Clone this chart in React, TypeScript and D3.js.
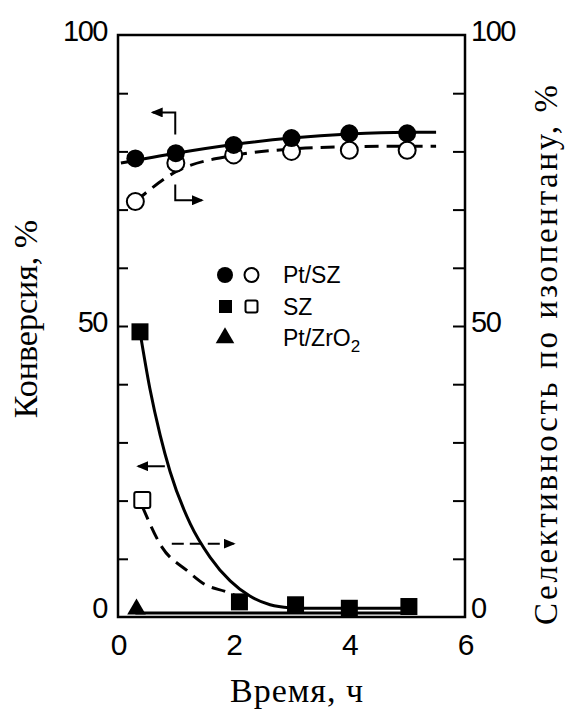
import { useRef, useEffect } from "react";
import * as d3 from "d3";

// measured points (time, h)
const ptszTime = [0.3, 1, 2, 3, 4, 5];
const ptszConversion = [78.8, 79.7, 81.1, 82.3, 83.1, 83.1];
const ptszSelectivity = [71.4, 78.0, 79.4, 80.0, 80.2, 80.2];

const szTime = [0.38, 2.1, 3.07, 4.0, 5.03];
const szConversion = [49.0, 2.6, 2.1, 1.5, 1.8];
const szSelTime = [0.42];
const szSelectivity = [20.1];

const ptzrTime = [0.32];
const ptzrConversion = [1.0];

// drawn trend curves
const ptszConvFit: [number, number][] = [[0.05, 78], [1, 79.7], [2, 81.2], [3, 82.3], [4, 83], [5, 83.3], [5.5, 83.3]];
const ptszSelFit: [number, number][] = [[0.3, 71.4], [1, 76.5], [2, 79.3], [3, 80.4], [4, 80.8], [5, 80.9], [5.5, 80.9]];
const szConvFit: [number, number][] = [[0.38, 49], [0.55, 39.3], [0.73, 31.2], [0.9, 25], [1.25, 16], [1.59, 10.3], [1.94, 6.2], [2.28, 3.6], [2.63, 2.1], [2.97, 1.6], [3.3, 1.5], [5.1, 1.5]];
const szSelFit: [number, number][] = [[0.42, 19], [0.76, 12], [1.19, 8], [1.5, 5.6], [1.88, 4.3], [2.05, 3.6]];
const ptzrFit: [number, number][] = [[0.3, 0.7], [5.15, 0.7]];

const xTickLabels = [0, 2, 4, 6];
const yTickLabels = [0, 50, 100];
const yMinorTicks = d3.range(10, 100, 10);

const legendNames = ["Pt/SZ", "SZ", "Pt/ZrO"];

const App = () => {
  const svgRef = useRef<SVGSVGElement>(null);

  useEffect(() => {
    const svg = d3.select(svgRef.current);
    svg.selectAll("*").remove();

    const x = d3.scaleLinear().domain([0, 6]).range([118, 465]);
    const y = d3.scaleLinear().domain([0, 100]).range([617, 35]);

    const defs = svg.append("defs");
    defs
      .append("marker")
      .attr("id", "head")
      .attr("markerUnits", "userSpaceOnUse")
      .attr("markerWidth", 12)
      .attr("markerHeight", 10)
      .attr("refX", 10)
      .attr("refY", 5)
      .attr("orient", "auto")
      .append("path")
      .attr("d", "M0,0 L12,5 L0,10 Z")
      .attr("fill", "#000");

    // frame
    svg
      .append("rect")
      .attr("x", x(0))
      .attr("y", y(100))
      .attr("width", x(6) - x(0))
      .attr("height", y(0) - y(100))
      .attr("fill", "none")
      .attr("stroke", "#000")
      .attr("stroke-width", 2.5);

    svg
      .append("g")
      .attr("transform", "translate(" + x(0) + ",0)")
      .call(d3.axisLeft(y).tickValues(yMinorTicks).tickSize(-10).tickFormat(() => ""))
      .call((g) => g.select(".domain").remove())
      .call((g) => g.selectAll(".tick line").attr("stroke-width", 2));

    svg
      .append("g")
      .attr("transform", "translate(" + x(6) + ",0)")
      .call(d3.axisRight(y).tickValues(yMinorTicks).tickSize(-12).tickFormat(() => ""))
      .call((g) => g.select(".domain").remove())
      .call((g) => g.selectAll(".tick line").attr("stroke-width", 2));

    const tickFont = "'Liberation Sans', Arial, sans-serif";

    svg
      .selectAll(".ylab-l")
      .data(yTickLabels)
      .join("text")
      .attr("x", 107)
      .attr("y", (d) => y(d) + (d === 0 ? -9 : -4))
      .attr("dominant-baseline", "central")
      .attr("text-anchor", "end")
      .attr("font-family", tickFont)
      .attr("font-size", 29)
      .attr("letter-spacing", -1.5)
      .text((d) => d);

    svg
      .selectAll(".ylab-r")
      .data(yTickLabels)
      .join("text")
      .attr("x", 471)
      .attr("y", (d) => y(d) + (d === 0 ? -9 : -4))
      .attr("dominant-baseline", "central")
      .attr("text-anchor", "start")
      .attr("font-family", tickFont)
      .attr("font-size", 29)
      .attr("letter-spacing", -1.5)
      .text((d) => d);

    svg
      .selectAll(".xlab")
      .data(xTickLabels)
      .join("text")
      .attr("x", (d) => x(d) + 1)
      .attr("y", 644)
      .attr("dominant-baseline", "central")
      .attr("text-anchor", "middle")
      .attr("font-family", tickFont)
      .attr("font-size", 30)
      .text((d) => d);

    // axis titles
    const serif = "'Liberation Serif', Tinos, 'Times New Roman', 'DejaVu Serif', serif";
    svg
      .append("text")
      .attr("transform", "translate(37,319) rotate(-90)")
      .attr("text-anchor", "middle")
      .style("font-family", serif)
      .attr("font-size", 34)
      .text("Конверсия, %");
    svg
      .append("text")
      .attr("transform", "translate(557,625) rotate(-90)")
      .attr("text-anchor", "start")
      .style("font-family", serif)
      .attr("font-size", 33)
      .attr("textLength", 540)
      .attr("lengthAdjust", "spacing")
      .text("Селективность по изопентану, %");
    svg
      .append("text")
      .attr("x", 297)
      .attr("y", 702)
      .attr("text-anchor", "middle")
      .style("font-family", serif)
      .attr("font-size", 34)
      .attr("letter-spacing", 1)
      .text("Время, ч");

    // curves
    const line = d3
      .line<[number, number]>()
      .x((d) => x(d[0]))
      .y((d) => y(d[1]))
      .curve(d3.curveMonotoneX);

    const curves = [
      { pts: ptzrFit, dash: null },
      { pts: szConvFit, dash: null },
      { pts: szSelFit, dash: "14,8" },
      { pts: ptszSelFit, dash: "14,8" },
      { pts: ptszConvFit, dash: null },
    ];
    curves.forEach((c) => {
      svg
        .append("path")
        .attr("d", line(c.pts))
        .attr("fill", "none")
        .attr("stroke", "#000")
        .attr("stroke-width", 3)
        .attr("stroke-dasharray", c.dash);
    });

    // arrows
    const arrow = (pts: [number, number][], dash: string | null) =>
      svg
        .append("path")
        .attr("d", d3.line<[number, number]>().x((d) => x(d[0])).y((d) => y(d[1]))(pts))
        .attr("fill", "none")
        .attr("stroke", "#000")
        .attr("stroke-width", 2)
        .attr("stroke-dasharray", dash)
        .attr("marker-end", "url(#head)");
    arrow([[0.99, 82.9], [0.99, 86.7], [0.6, 86.7]], null);
    arrow([[0.99, 74.3], [0.99, 71.6], [1.45, 71.6]], null);
    arrow([[0.81, 25.9], [0.35, 25.9]], null);
    arrow([[0.93, 12.6], [2.0, 12.6]], "12,6");

    // markers
    const tri = d3.symbol().type(d3.symbolTriangle).size(150);
    svg
      .selectAll(".ptzr")
      .data(ptzrTime)
      .join("path")
      .attr("transform", (d, i) => "translate(" + x(d) + "," + (y(ptzrConversion[i]) - 2) + ")")
      .attr("d", tri)
      .attr("fill", "#000");

    svg
      .selectAll(".szsel")
      .data(szSelTime)
      .join("rect")
      .attr("x", (d) => x(d) - 8)
      .attr("y", (d, i) => y(szSelectivity[i]) - 8)
      .attr("width", 16)
      .attr("height", 16)
      .attr("rx", 2)
      .attr("fill", "#fff")
      .attr("stroke", "#000")
      .attr("stroke-width", 2);

    svg
      .selectAll(".szconv")
      .data(szTime)
      .join("rect")
      .attr("x", (d) => x(d) - 8.5)
      .attr("y", (d, i) => y(szConversion[i]) - 8.5)
      .attr("width", 17)
      .attr("height", 17)
      .attr("fill", "#000");

    svg
      .selectAll(".ptszsel")
      .data(ptszTime)
      .join("circle")
      .attr("cx", (d) => x(d))
      .attr("cy", (d, i) => y(ptszSelectivity[i]))
      .attr("r", 8.5)
      .attr("fill", "#fff")
      .attr("stroke", "#000")
      .attr("stroke-width", 2);

    svg
      .selectAll(".ptszconv")
      .data(ptszTime)
      .join("circle")
      .attr("cx", (d) => x(d))
      .attr("cy", (d, i) => y(ptszConversion[i]))
      .attr("r", 9)
      .attr("fill", "#000");

    // legend
    const lg = svg.append("g").attr("font-family", tickFont).attr("font-size", 23);
    const rows = [275, 306.5, 338];
    lg.append("circle").attr("cx", 225).attr("cy", rows[0]).attr("r", 8).attr("fill", "#000");
    lg.append("circle").attr("cx", 251.5).attr("cy", rows[0]).attr("r", 7).attr("fill", "#fff").attr("stroke", "#000").attr("stroke-width", 2);
    lg.append("rect").attr("x", 219).attr("y", rows[1] - 6.5).attr("width", 13).attr("height", 13).attr("fill", "#000");
    lg.append("rect").attr("x", 245.5).attr("y", rows[1] - 6).attr("width", 12).attr("height", 12).attr("rx", 2).attr("fill", "#fff").attr("stroke", "#000").attr("stroke-width", 2);
    lg.append("path").attr("transform", "translate(225," + rows[2] + ")").attr("d", d3.symbol().type(d3.symbolTriangle).size(150)).attr("fill", "#000");

    legendNames.forEach((name, i) => {
      const t = lg.append("text").attr("x", 283).attr("y", rows[i] + 8).text(name);
      if (i === 2) t.append("tspan").attr("dy", 6).attr("font-size", 17).text("2");
    });
  }, []);

  return (
    <svg
      ref={svgRef}
      width={568}
      height={709}
      style={{ position: "absolute", left: 0, top: 0, background: "#fff" }}
    ></svg>
  );
};

export default App;
